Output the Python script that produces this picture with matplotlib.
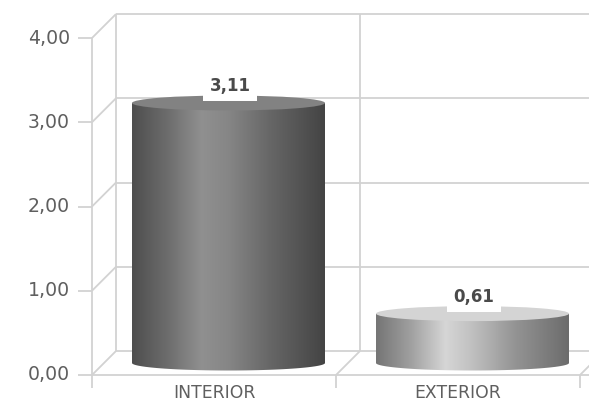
import numpy as np
import matplotlib
matplotlib.use("Agg")
import matplotlib.pyplot as plt
from matplotlib.patches import Polygon, Ellipse
from matplotlib.colors import LinearSegmentedColormap

categories = ["INTERIOR", "EXTERIOR"]
values = [3.11, 0.61]
value_labels = ["3,11", "0,61"]
y_ticks = [0, 1, 2, 3, 4]
y_tick_labels = ["0,00", "1,00", "2,00", "3,00", "4,00"]

W, H = 589, 401
FL, FR, F0, F4 = 92, 580, 375, 38   # front plane in pixels
fig = plt.figure(figsize=(W / 100, H / 100), dpi=100)
ax = fig.add_axes([FL / W, 1 - F0 / H, (FR - FL) / W, (F0 - F4) / H])
ax.set_xlim(-0.5, 1.5)
ax.set_ylim(0, 4)
ax.axis("off")

px = (FR - FL) / 2          # pixels per category
py = (F0 - F4) / 4          # pixels per value unit
dx, dy = 24 / px, 24 / py   # depth of the box
GRID = "#d2d2d2"
TXT = "#5f5f5f"
lw = 1.3
kw = dict(color=GRID, lw=lw, clip_on=False, zorder=1, solid_capstyle="butt")

x0 = -0.5
right_edge = (W - FL) / px - 0.5
for t, lab in zip(y_ticks, y_tick_labels):
    ax.plot([x0 + dx, right_edge], [t + dy, t + dy], **kw)
    ax.plot([x0, x0 + dx], [t, t + dy], **kw)
    ax.plot([x0 - 14 / px, x0], [t, t], **kw)
    ax.text(x0 - 22 / px, t, lab, ha="right", va="center", fontsize=13.6, color=TXT, clip_on=False)
ax.plot([x0, x0], [-13 / py, 4], **kw)
ax.plot([x0 + dx] * 2, [dy, 4 + dy], **kw)
ax.plot([x0 + 1 + dx] * 2, [dy, 4 + dy], **kw)
ax.plot([x0, right_edge], [0, 0], **kw)
for b in [0.5, 1.5]:
    ax.plot([b, b], [-13 / py, 0], **kw)
    ax.plot([b, b + dx], [0, dy], **kw)

stops_dark = [(0, "#4e4e4e"), (0.18, "#6c6c6c"), (0.36, "#909090"), (0.5, "#868686"), (0.72, "#666666"), (1, "#444444")]
stops_light = [(0, "#757575"), (0.18, "#a0a0a0"), (0.36, "#d6d6d6"), (0.5, "#c0c0c0"), (0.72, "#949494"), (1, "#6c6c6c")]
tops = ["#828282", "#d4d4d4"]
stops = [stops_dark, stops_light]

cx_off = 14.5 / px
half = 96.5 / px
base = 12 / py              # centre of the base above the front floor line
top_adj = -2 / py
ry = 7.5 / py
theta = np.linspace(0, np.pi, 60)
grad = np.linspace(0, 1, 256).reshape(1, -1)

for i, v in enumerate(values):
    cx = i + cx_off
    ybot, ytop = base, base + v + top_adj
    xs = cx + half * np.cos(theta)
    side = np.vstack([
        np.column_stack([xs, ybot - ry * np.sin(theta)]),
        [[cx - half, ytop], [cx + half, ytop]],
    ])
    poly = Polygon(side, closed=True, transform=ax.transData, fc="none", ec="none")
    ax.add_patch(poly)
    cmap = LinearSegmentedColormap.from_list(f"c{i}", stops[i])
    im = ax.imshow(grad, extent=[cx - half, cx + half, ybot - ry, ytop], aspect="auto",
                   cmap=cmap, vmin=0, vmax=1, zorder=3, interpolation="bilinear")
    im.set_clip_path(poly)
    ax.add_patch(Ellipse((cx, ytop), 2 * half, 2 * ry, fc=tops[i], ec="none", zorder=4))
    ax.bar(cx + 1.5 / px, 6 / py, bottom=ytop + 2 / py, width=54 / px, color="white", zorder=5)
    ax.text(cx + 1.5 / px, ytop + 17 / py, value_labels[i], ha="center", va="center", fontsize=12,
            color="#4a4a4a", fontweight="bold", zorder=6, clip_on=False)
    ax.text(i, -17.5 / py, categories[i], ha="center", va="center", fontsize=12.4,
            color=TXT, clip_on=False)

ax.set_xlim(-0.5, 1.5)
ax.set_ylim(0, 4)
fig.savefig("out.png", dpi=100, facecolor="white")
